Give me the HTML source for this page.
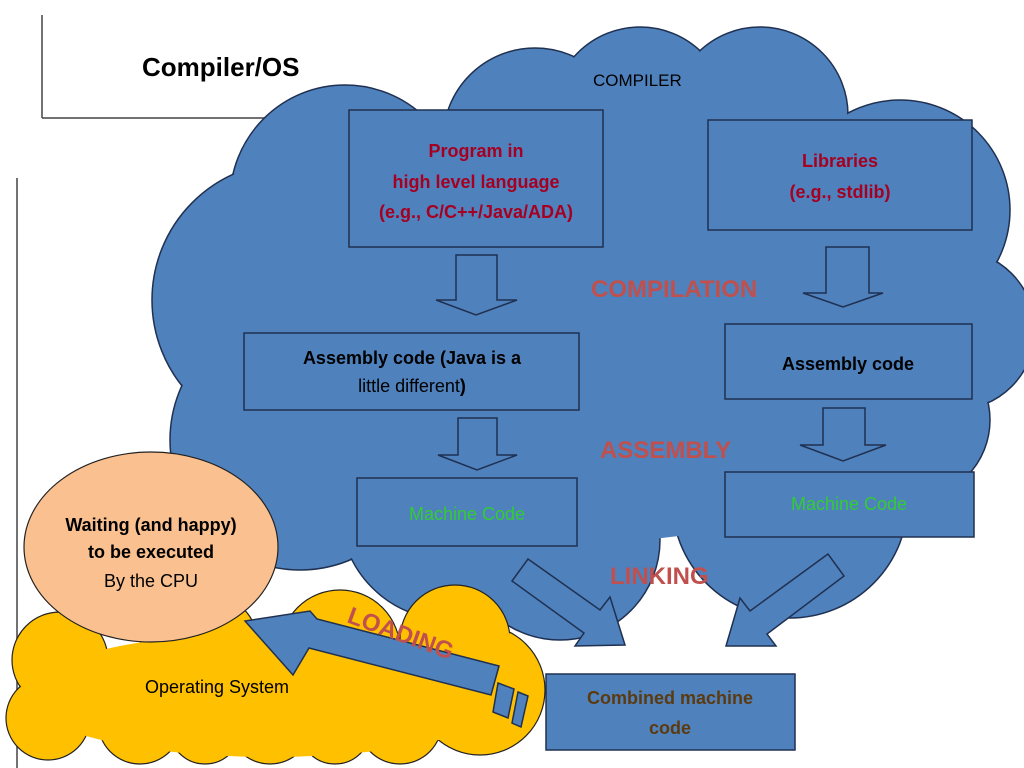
<!DOCTYPE html>
<html><head><meta charset="utf-8"><style>
html,body{margin:0;width:1024px;height:768px;overflow:hidden;background:#fff}
svg{display:block}
text{font-family:"Liberation Sans","DejaVu Sans",sans-serif}
</style></head><body>
<svg width="1024" height="768" viewBox="0 0 1024 768">
<line x1="42" y1="15" x2="42" y2="118" stroke="#444" stroke-width="1.5"/>
<line x1="42" y1="118" x2="300" y2="118" stroke="#444" stroke-width="1.5"/>
<line x1="17" y1="178" x2="17" y2="768" stroke="#444" stroke-width="1.5"/>
<g fill="#4f81bd" stroke="#1f3050" stroke-width="1.5">
<circle cx="345" cy="200" r="115"/><circle cx="535" cy="140" r="92"/><circle cx="640" cy="115" r="88"/>
<circle cx="760" cy="115" r="88"/><circle cx="900" cy="210" r="110"/><circle cx="955" cy="330" r="80"/>
<circle cx="290" cy="300" r="138"/><circle cx="300" cy="440" r="130"/><circle cx="560" cy="540" r="100"/>
<circle cx="790" cy="500" r="118"/><circle cx="450" cy="510" r="110"/><circle cx="910" cy="420" r="80"/>
</g>
<g fill="#4f81bd">
<circle cx="345" cy="200" r="114"/><circle cx="535" cy="140" r="91"/><circle cx="640" cy="115" r="87"/>
<circle cx="760" cy="115" r="87"/><circle cx="900" cy="210" r="109"/><circle cx="955" cy="330" r="79"/>
<circle cx="290" cy="300" r="137"/><circle cx="300" cy="440" r="129"/><circle cx="560" cy="540" r="99"/>
<circle cx="790" cy="500" r="117"/><circle cx="450" cy="510" r="109"/><circle cx="910" cy="420" r="79"/>
<ellipse cx="620" cy="330" rx="300" ry="210"/>
</g>
<text x="142" y="76" font-size="26" font-weight="bold">Compiler/OS</text>
<g fill="#ffc000" stroke="#222" stroke-width="1.2">
<circle cx="60" cy="660" r="48"/><circle cx="48" cy="718" r="42"/><circle cx="140" cy="722" r="42"/>
<circle cx="205" cy="728" r="36"/><circle cx="270" cy="722" r="42"/><circle cx="335" cy="728" r="36"/>
<circle cx="400" cy="722" r="42"/><circle cx="480" cy="690" r="65"/>
<circle cx="455" cy="640" r="55"/><circle cx="200" cy="650" r="60"/><circle cx="340" cy="650" r="60"/>
</g>
<g fill="#ffc000">
<circle cx="60" cy="660" r="47"/><circle cx="48" cy="718" r="41"/><circle cx="140" cy="722" r="41"/>
<circle cx="205" cy="728" r="35"/><circle cx="270" cy="722" r="41"/><circle cx="335" cy="728" r="35"/>
<circle cx="400" cy="722" r="41"/><circle cx="480" cy="690" r="64"/>
<circle cx="455" cy="640" r="54"/><circle cx="200" cy="650" r="59"/><circle cx="340" cy="650" r="59"/>
<ellipse cx="270" cy="695" rx="245" ry="62"/>
</g>
<ellipse cx="151" cy="547" rx="127" ry="95" fill="#fac090" stroke="#222" stroke-width="1.2"/>
<g fill="#4f81bd" stroke="#1f3050" stroke-width="1.5">
<rect x="349" y="110" width="254" height="137"/><rect x="708" y="120" width="264" height="110"/>
<rect x="244" y="333" width="335" height="77"/><rect x="725" y="324" width="247" height="75"/>
<rect x="357" y="478" width="220" height="68"/><rect x="725" y="472" width="249" height="65"/>
<rect x="546" y="674" width="249" height="76"/>
<polygon points="456,255 497,255 497,300 517,300 476,315 436,300 456,300"/>
<polygon points="826,247 869,247 869,293 883,293 843,307 803,293 826,293"/>
<polygon points="458,418 497,418 497,455 517,455 477,470 438,455 458,455"/>
<polygon points="823,408 865,408 865,445 886,445 843,461 800,445 823,445"/>
<polygon points="528,559 600,610 610,597 625,645 575,646 584,633 512,581"/>
<polygon points="828,554 750,611 740,598 726,646 776,646 767,634 844,576"/>
<polygon points="499,666 317,619 310,611 245,621 293,675 309,648 491,695"/>
<polygon points="498,683 514,689 508,718 493,712"/>
<polygon points="518,692 528,696 521,727 512,723"/>
</g>
<text x="593" y="86" font-size="17">COMPILER</text>
<g font-weight="bold" fill="#a50021" font-size="18" text-anchor="middle">
<text x="476" y="157">Program in</text><text x="476" y="188">high level language</text><text x="476" y="218">(e.g., C/C++/Java/ADA)</text>
<text x="840" y="167">Libraries</text><text x="840" y="198">(e.g., stdlib)</text>
</g>
<text x="412" y="364" font-size="18" font-weight="bold" text-anchor="middle">Assembly code (Java is a</text>
<text x="412" y="392" font-size="18" text-anchor="middle">little different<tspan font-weight="bold">)</tspan></text>
<text x="848" y="370" font-size="18" font-weight="bold" text-anchor="middle">Assembly code</text>
<text x="467" y="520" font-size="18" fill="#33cc33" text-anchor="middle">Machine Code</text>
<text x="849" y="510" font-size="18" fill="#33cc33" text-anchor="middle">Machine Code</text>
<text x="670" y="704" font-size="18" font-weight="bold" fill="#5c3a10" text-anchor="middle">Combined machine</text>
<text x="670" y="734" font-size="18" font-weight="bold" fill="#5c3a10" text-anchor="middle">code</text>
<g font-weight="bold" fill="#c0504d" font-size="24">
<text x="591" y="297">COMPILATION</text><text x="600" y="458">ASSEMBLY</text><text x="610" y="584">LINKING</text>
<text x="346" y="622" transform="rotate(20 346 622)">LOADING</text>
</g>
<text x="151" y="531" font-size="18" font-weight="bold" text-anchor="middle">Waiting (and happy)</text>
<text x="151" y="558" font-size="18" font-weight="bold" text-anchor="middle">to be executed</text>
<text x="151" y="587" font-size="18" text-anchor="middle">By the CPU</text>
<text x="217" y="693" font-size="18" text-anchor="middle">Operating System</text>
</svg>
</body></html>
